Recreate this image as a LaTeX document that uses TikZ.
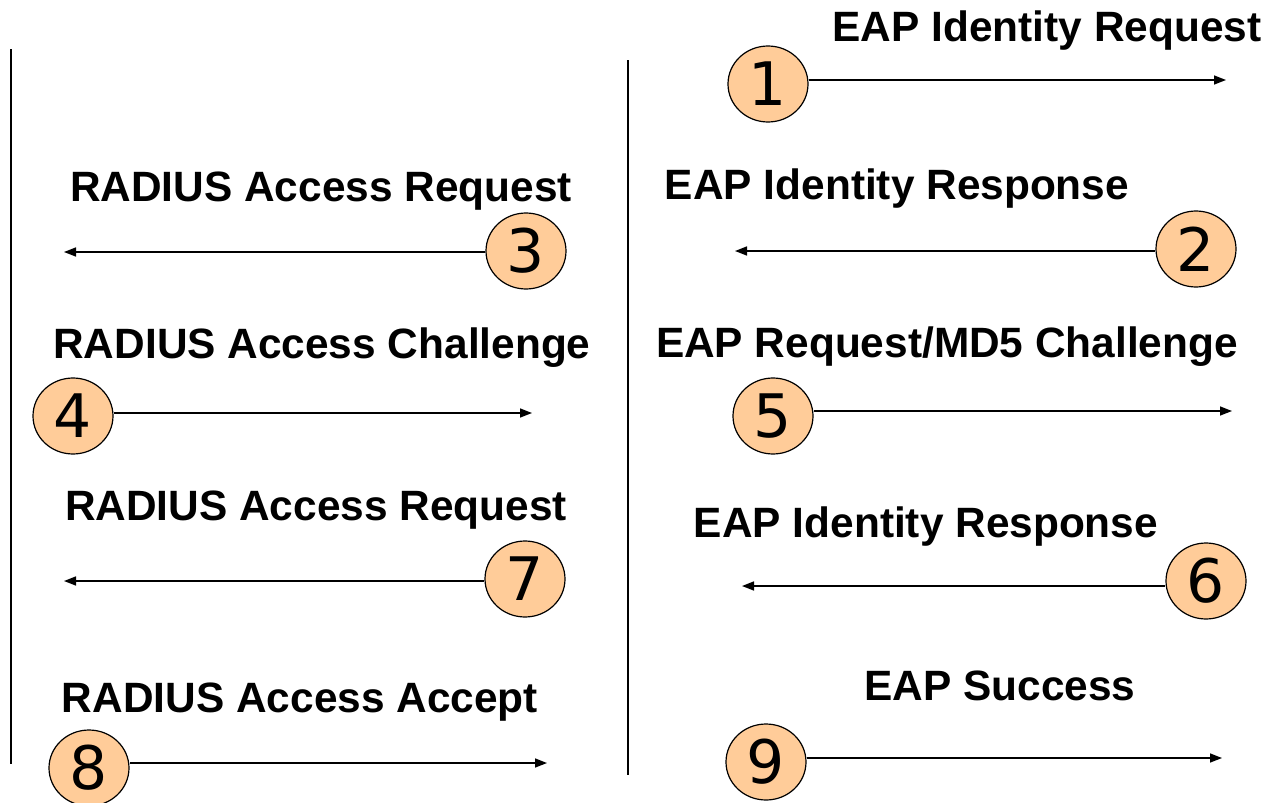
\documentclass[tikz,border=0pt]{standalone}
\usepackage{fontspec}
\setmainfont{Liberation Sans}
\newfontfamily\numfont{DejaVu Sans}
\usetikzlibrary{arrows.meta,shapes.geometric}
\definecolor{numfill}{HTML}{FFCC99}
\begin{document}
\begin{tikzpicture}[x=1pt, y=-1pt, -{Triangle[length=12pt,width=9pt]}, line width=1.5pt,
  num_node/.style={ellipse, draw, fill=numfill, line width=1.2pt, minimum width=80pt, minimum height=76pt, inner sep=0pt, font=\numfont\fontsize{60}{60}\selectfont},
  msg_label/.style={anchor=base, inner sep=0pt, font=\fontsize{42.4}{42.4}\selectfont\bfseries}]
  \useasboundingbox (0,0) rectangle (1270,803);

  % the two time lines
  \draw[-, line width=2pt] (11,49) -- (11,764);
  \draw[-, line width=2pt] (628,60) -- (628,775);

  % numbered steps
  \node[num_node] (1) at (768,84) {1};
  \node[num_node] (2) at (1196,249) {2};
  \node[num_node] (3) at (526,251) {3};
  \node[num_node] (4) at (73,416) {4};
  \node[num_node] (5) at (773,416) {5};
  \node[num_node] (6) at (1206,581) {6};
  \node[num_node] (7) at (525,579) {7};
  \node[num_node] (8) at (89,768) {8};
  \node[num_node] (9) at (766,762) {9};

  % arrow ends
  \coordinate (e1) at (1226,80);
  \coordinate (e2) at (735,251);
  \coordinate (e3) at (64,252);
  \coordinate (e4) at (532,413);
  \coordinate (e5) at (1232,411);
  \coordinate (e6) at (742,586);
  \coordinate (e7) at (64,581);
  \coordinate (e8) at (547,763);
  \coordinate (e9) at (1222,758);

  \path
    (1.east |- e1) edge (e1)
    (2.west |- e2) edge (e2)
    (3.west |- e3) edge (e3)
    (4.east |- e4) edge (e4)
    (5.east |- e5) edge (e5)
    (6.west |- e6) edge (e6)
    (7.west |- e7) edge (e7)
    (8.east |- e8) edge (e8)
    (9.east |- e9) edge (e9);

  % message names
  \node[msg_label] (l1) at (1047,41) {EAP Identity Request};
  \node[msg_label] (l2) at (897,199) {EAP Identity Response};
  \node[msg_label] (l3) at (321,201) {RADIUS Access Request};
  \node[msg_label] (l4) at (322,358) {RADIUS Access Challenge};
  \node[msg_label] (l5) at (947,357) {EAP Request/MD5 Challenge};
  \node[msg_label] (l6) at (926,537) {EAP Identity Response};
  \node[msg_label] (l7) at (316,520) {RADIUS Access Request};
  \node[msg_label] (l8) at (300,712) {RADIUS Access Accept};
  \node[msg_label] (l9) at (1000,700) {EAP Success};
\end{tikzpicture}
\end{document}
